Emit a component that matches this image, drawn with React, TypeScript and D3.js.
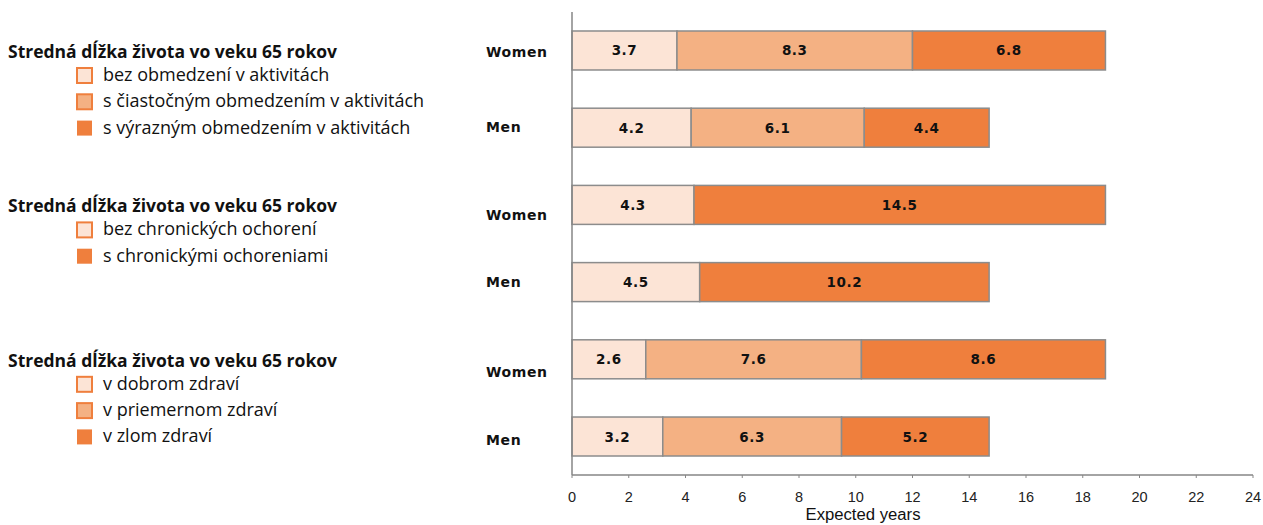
import React, { useRef, useEffect } from 'react';
import * as d3 from 'd3';

// rows, top to bottom
const rowLabels = ['Women', 'Men', 'Women', 'Men', 'Women', 'Men'];

// stredná dĺžka života vo veku 65 rokov, rozdelená podľa stavu
const limitationWomen = [3.7, 8.3, 6.8];
const limitationMen = [4.2, 6.1, 4.4];
const chronicWomen = [4.3, 14.5];
const chronicMen = [4.5, 10.2];
const healthWomen = [2.6, 7.6, 8.6];
const healthMen = [3.2, 6.3, 5.2];

// which shade each segment uses (0 light, 1 medium, 2 dark)
const limitationShades = [0, 1, 2];
const chronicShades = [0, 2];
const healthShades = [0, 1, 2];

const legendTitle = 'Stredná dĺžka života vo veku 65 rokov';
const limitationLegend = ['bez obmedzení v aktivitách', 's čiastočným obmedzením v aktivitách', 's výrazným obmedzením v aktivitách'];
const chronicLegend = ['bez chronických ochorení', 's chronickými ochoreniami'];
const healthLegend = ['v dobrom zdraví', 'v priemernom zdraví', 'v zlom zdraví'];

const xTicks = [0, 2, 4, 6, 8, 10, 12, 14, 16, 18, 20, 22, 24];
const xTitle = 'Expected years';

const shades = ['#FCE4D6', '#F4B183', '#EF7F3D'];
const legendStroke = '#EF7F3D';
const axisColor = '#868686';

const W = 1263;
const H = 525;

const App = () => {
    const svgRef = useRef<SVGSVGElement>(null);

    useEffect(() => {
        const svg = d3.select(svgRef.current);
        svg.selectAll('*').remove();

        const plot = { left: 572, right: 1253, top: 12, bottom: 475 };

        const x = d3.scaleLinear().domain([0, 24]).range([plot.left, plot.right]);
        const y = d3.scaleBand<number>()
            .domain(d3.range(rowLabels.length))
            .range([plot.top, plot.bottom])
            .paddingInner(0.495)
            .paddingOuter(0.246);

        const rows = [
            { values: limitationWomen, shadeIdx: limitationShades },
            { values: limitationMen, shadeIdx: limitationShades },
            { values: chronicWomen, shadeIdx: chronicShades },
            { values: chronicMen, shadeIdx: chronicShades },
            { values: healthWomen, shadeIdx: healthShades },
            { values: healthMen, shadeIdx: healthShades },
        ];

        // stacked segments
        rows.forEach((row, r) => {
            let start = 0;
            const segs = row.values.map((v, i) => {
                const s = { x0: start, x1: start + v, v, shade: row.shadeIdx[i] };
                start += v;
                return s;
            });
            const g = svg.append('g');
            g.selectAll('rect')
                .data(segs)
                .join('rect')
                .attr('x', d => x(d.x0))
                .attr('y', y(r)!)
                .attr('width', d => x(d.x1) - x(d.x0))
                .attr('height', y.bandwidth())
                .attr('fill', d => shades[d.shade])
                .attr('stroke', '#8c8c8c')
                .attr('stroke-width', 1.5);
            g.selectAll('text')
                .data(segs)
                .join('text')
                .attr('x', d => (x(d.x0) + x(d.x1)) / 2)
                .attr('y', y(r)! + y.bandwidth() / 2 + 1)
                .attr('text-anchor', 'middle')
                .attr('dominant-baseline', 'middle')
                .attr('font-family', 'DejaVu Sans, Verdana, sans-serif')
                .attr('font-weight', 'bold')
                .attr('font-size', 13.5)
                .attr('letter-spacing', 0.6)
                .attr('fill', '#111')
                .text(d => d.v.toFixed(1));
        });

        // row labels (the original ones sit a little lower than the bars)
        const labelShift = [3, 0, 11, 1, 14, 4];
        svg.append('g')
            .selectAll('text')
            .data(rowLabels)
            .join('text')
            .attr('x', 486)
            .attr('y', (d, i) => y(i)! + y.bandwidth() / 2 + labelShift[i])
            .attr('dominant-baseline', 'middle')
            .attr('font-family', 'DejaVu Sans, Verdana, sans-serif')
            .attr('font-weight', 'bold')
            .attr('font-size', 14)
            .attr('letter-spacing', 0.6)
            .attr('fill', '#111')
            .text(d => d);

        // axes
        svg.append('line')
            .attr('x1', plot.left).attr('x2', plot.left)
            .attr('y1', plot.top).attr('y2', plot.bottom)
            .attr('stroke', axisColor).attr('stroke-width', 1.5);
        svg.append('line')
            .attr('x1', plot.left).attr('x2', plot.right)
            .attr('y1', plot.bottom).attr('y2', plot.bottom)
            .attr('stroke', axisColor).attr('stroke-width', 1.5);

        const ticks = svg.append('g');
        ticks.selectAll('line')
            .data(xTicks)
            .join('line')
            .attr('x1', d => x(d)).attr('x2', d => x(d))
            .attr('y1', plot.bottom).attr('y2', plot.bottom + 3)
            .attr('stroke', axisColor).attr('stroke-width', 1);
        ticks.selectAll('text')
            .data(xTicks)
            .join('text')
            .attr('x', d => x(d))
            .attr('y', plot.bottom + 27)
            .attr('text-anchor', 'middle')
            .attr('font-family', 'Liberation Sans Narrow, Arial Narrow, sans-serif')
            .attr('font-size', 14.5)
            .attr('fill', '#222')
            .text(d => d);

        svg.append('text')
            .attr('x', 863)
            .attr('y', plot.bottom + 45)
            .attr('text-anchor', 'middle')
            .attr('font-family', 'Liberation Sans Narrow, Arial Narrow, sans-serif')
            .attr('font-size', 16)
            .attr('textLength', 115)
            .attr('lengthAdjust', 'spacingAndGlyphs')
            .attr('fill', '#111')
            .text(xTitle);

        // legends, one per block of two rows
        const legends = [
            { items: limitationLegend, shadeIdx: limitationShades, row: 0 },
            { items: chronicLegend, shadeIdx: chronicShades, row: 2 },
            { items: healthLegend, shadeIdx: healthShades, row: 4 },
        ];
        const legendFont = 'Open Sans, Noto Sans, sans-serif';
        legends.forEach(lg => {
            const top = y(lg.row)! + 27;
            const g = svg.append('g');
            g.append('text')
                .attr('x', 8)
                .attr('y', top)
                .attr('font-family', legendFont)
                .attr('font-weight', 'bold')
                .attr('font-size', 17.5)
                .attr('fill', '#111')
                .text(legendTitle);
            const items = g.selectAll('g.item')
                .data(lg.items)
                .join('g')
                .attr('class', 'item')
                .attr('transform', (d, i) => `translate(0,${top + 23 + i * 26.3})`);
            items.append('rect')
                .attr('x', 77)
                .attr('y', -13)
                .attr('width', 15)
                .attr('height', 15)
                .attr('fill', (d, i) => shades[lg.shadeIdx[i]])
                .attr('stroke', (d, i) => lg.shadeIdx[i] === 2 ? 'none' : legendStroke)
                .attr('stroke-width', 2);
            items.append('text')
                .attr('x', 103)
                .attr('y', 0)
                .attr('font-family', legendFont)
                .attr('font-size', 18)
                .attr('fill', '#111')
                .text(d => d);
        });
    }, []);

    return (
        <svg
            ref={svgRef}
            width={W}
            height={H}
            style={{ position: 'absolute', left: 0, top: 0, background: '#fff' }}
        ></svg>
    );
};

export default App;
